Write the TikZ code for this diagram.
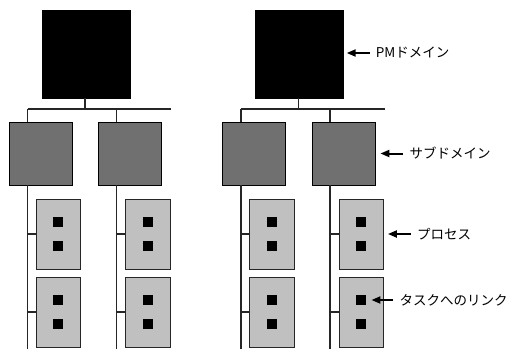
\documentclass[tikz,border=0pt]{standalone}
\usepackage{fontspec}
\setmainfont{Noto Sans CJK JP}
\usetikzlibrary{positioning,arrows.meta}
\definecolor{subgray}{HTML}{707070}
\definecolor{procgray}{HTML}{C0C0C0}
\tikzset{
  pmbox/.style={draw=black, fill=black, minimum width=88pt, minimum height=88pt, inner sep=0pt},
  subbox/.style={draw=black, fill=subgray, line width=0.8pt, minimum width=63pt, minimum height=63pt, inner sep=0pt},
  procbox/.style={draw=black!85, fill=procgray, line width=0.8pt, minimum width=44.5pt, minimum height=70pt, inner sep=0pt},
  linkbox/.style={fill=black, minimum size=10pt, inner sep=0pt},
  wire/.style={draw=black!85, line width=1.2pt},
  callout/.style={line width=2pt, -{Triangle[length=9pt,width=7pt]}, shorten <=3pt},
  lbl/.style={inner sep=3pt, font=\fontsize{13.5}{15}\selectfont}
}

\begin{document}
\begin{tikzpicture}[x=1pt,y=-1pt]
  \useasboundingbox (0,0) rectangle (509,349);
  % two domains, each with two sub-domains and two processes below each
  \foreach \g/\gx in {1/0,2/213.5} {
    \node[pmbox] (pm\g) at (\gx+86,54) {};
    \coordinate (bus\g) at (\gx+85,109);
    \coordinate (busend\g) at (\gx+171,109);
    \foreach \c in {0,1} {
      \node[subbox] (sub\g\c) at (\gx+40.5+89.5*\c,153.5) {};
      \coordinate (top\g\c) at (\gx+27.5+89*\c,109);
      \coordinate (foot\g\c) at (\gx+27.5+89*\c,349);
      \draw[wire] (top\g\c) -- (top\g\c |- sub\g\c.north);
      \draw[wire] (top\g\c |- sub\g\c.south) -- (foot\g\c);
      \foreach \r/\ry in {1/234,2/312} {
        \node[procbox] (proc\g\c\r) at (\gx+58.25+89.5*\c,\ry) {};
        \node[linkbox] (linka\g\c\r) at ([yshift=12pt]proc\g\c\r.center) {};
        \node[linkbox] (linkb\g\c\r) at ([yshift=-12pt]proc\g\c\r.center) {};
        \draw[wire] (proc\g\c\r.west -| foot\g\c) -- (proc\g\c\r.west);
      }
    }
    \draw[wire] (pm\g.south -| bus\g) -- (bus\g);
    \draw[wire] (top\g0) -- (busend\g);
  }

  % labels on the right
  \coordinate (pmtip) at ([xshift=3pt,yshift=1pt]pm2.east);
  \node[lbl, right=26pt of pmtip] (pmlbl) {PMドメイン};
  \draw[callout] (pmlbl.west) -- (pmtip);

  \coordinate (subtip) at ([xshift=5pt]sub21.east);
  \node[lbl, right=26pt of subtip] (sublbl) {サブドメイン};
  \draw[callout] (sublbl.west) -- (subtip);

  \coordinate (proctip) at ([xshift=4pt]proc211.east);
  \node[lbl, right=26pt of proctip] (proclbl) {プロセス};
  \draw[callout] (proclbl.west) -- (proctip);

  \coordinate (linktip) at ([xshift=5pt]linka212.east);
  \node[lbl, right=25pt of linktip] (linklbl) {タスクへのリンク};
  \draw[callout] (linklbl.west) -- (linktip);
\end{tikzpicture}
\end{document}
